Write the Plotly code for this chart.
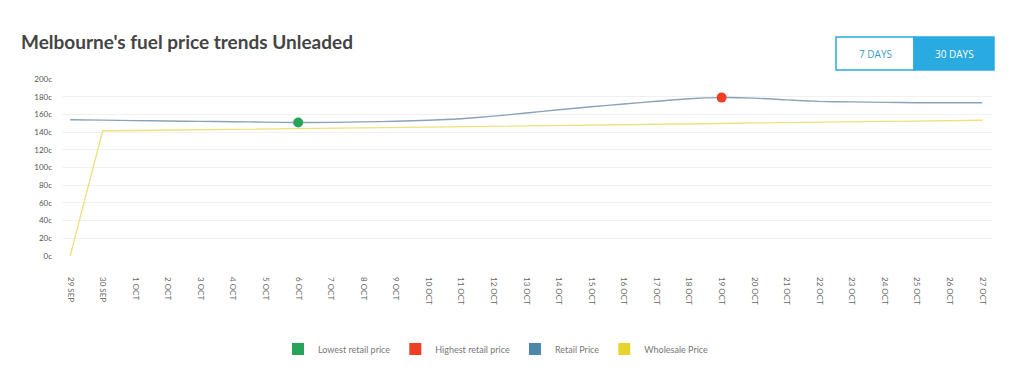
import plotly.graph_objects as go

dates = ["29 SEP", "30 SEP"] + [f"{d} OCT" for d in range(1, 28)]
retail = [153.9, 153.5, 153.0, 152.5, 152.1, 151.7, 151.3, 150.8, 151.0, 151.5, 152.2,
          153.4, 155.0, 158.0, 161.6, 165.3, 168.6, 171.8, 174.8, 177.7, 179.0, 178.4,
          176.4, 174.7, 174.1, 173.6, 173.2, 173.1, 173.1]
wholesale = [0, 141.5, 141.8, 142.2, 142.6, 143.0, 143.4, 143.8, 144.3, 144.8, 145.3,
             145.7, 146.0, 146.5, 147.0, 147.5, 148.0, 148.5, 149.0, 149.3, 149.7, 150.4,
             151.0, 151.5, 152.0, 152.1, 152.5, 153.0, 153.4]
y_ticks = list(range(0, 201, 20))
legend_names = ["Lowest retail price", "Highest retail price", "Retail Price", "Wholesale Price"]
legend_colors = ["#27a35a", "#ee3f24", "#4a87a8", "#e8d42f"]

x = list(range(len(dates)))
i_min = retail.index(min(retail))
i_max = retail.index(max(retail))

fig = go.Figure()
fig.add_trace(go.Scatter(x=x, y=wholesale, mode="lines", line=dict(color="#eee07a", width=1.3),
                         showlegend=False, hoverinfo="skip"))
fig.add_trace(go.Scatter(x=x, y=retail, mode="lines", line=dict(color="#8ba2b8", width=1.4, shape="spline", smoothing=0.5),
                         showlegend=False, hoverinfo="skip"))
fig.add_trace(go.Scatter(x=[i_min], y=[retail[i_min]], mode="markers",
                         marker=dict(color=legend_colors[0], size=10), showlegend=False))
fig.add_trace(go.Scatter(x=[i_max], y=[retail[i_max]], mode="markers",
                         marker=dict(color=legend_colors[1], size=10), showlegend=False))
for name, col in zip(legend_names, legend_colors):
    fig.add_trace(go.Scatter(x=[None], y=[None], mode="markers", name=name,
                             marker=dict(color=col, size=12, symbol="square")))

# page body has an 8px margin: work in screen coords, convert to figure coords
OFF = 8
W, H = 1036, 375
L = 62 - OFF
T = 79 - OFF
R = W - (992 - OFF)
B = H - (256 - OFF)
pw, ph = W - L - R, H - T - B
def px(v):
    return (v - OFF - L) / pw
def py(v):
    return (H - B - (v - OFF)) / ph

shapes = [
    dict(type="rect", xref="paper", yref="paper", x0=px(836), x1=px(914), y0=py(70), y1=py(37),
         line=dict(color="#29abe2", width=1.5), fillcolor="white"),
    dict(type="rect", xref="paper", yref="paper", x0=px(914), x1=px(994), y0=py(70), y1=py(37),
         line=dict(color="#29abe2", width=1.5), fillcolor="#29abe2"),
]
annotations = [
    dict(text="<b>Melbourne's fuel price trends Unleaded</b>", xref="paper", yref="paper",
         x=px(19), y=py(41), xanchor="left", yanchor="middle", showarrow=False,
         font=dict(family="Lato", size=19, color="#444444")),
    dict(text="7 DAYS", xref="paper", yref="paper", x=px(875), y=py(54), showarrow=False,
         xanchor="center", yanchor="middle",
         font=dict(family="Open Sans", size=10, color="#3d9cc6")),
    dict(text="30 DAYS", xref="paper", yref="paper", x=px(954), y=py(54), showarrow=False,
         xanchor="center", yanchor="middle",
         font=dict(family="Open Sans", size=10, color="white")),
]

fig.update_layout(
    width=W, height=H, margin=dict(l=L, r=R, t=T, b=B),
    paper_bgcolor="white", plot_bgcolor="white",
    font=dict(family="Lato", color="#666"),
    shapes=shapes, annotations=annotations,
    legend=dict(orientation="h", x=px(496), xanchor="center", y=py(349), yanchor="middle",
                font=dict(size=9, color="#777"), itemsizing="constant", itemwidth=30),
)
fig.update_xaxes(range=[-0.25, 28.3], tickvals=x, ticktext=dates, tickangle=90,
                 showgrid=False, zeroline=False, showline=False,
                 tickfont=dict(size=8, color="#666"), ticks="", ticklabelstandoff=20)
fig.update_yaxes(range=[0, 200], tickvals=y_ticks, ticktext=[f"{v}c" for v in y_ticks],
                 showgrid=True, gridcolor="#f1f1f1", gridwidth=1, zeroline=False,
                 tickfont=dict(size=8, color="#555"), ticks="", ticklabelstandoff=9)

fig.write_html("out.html")
